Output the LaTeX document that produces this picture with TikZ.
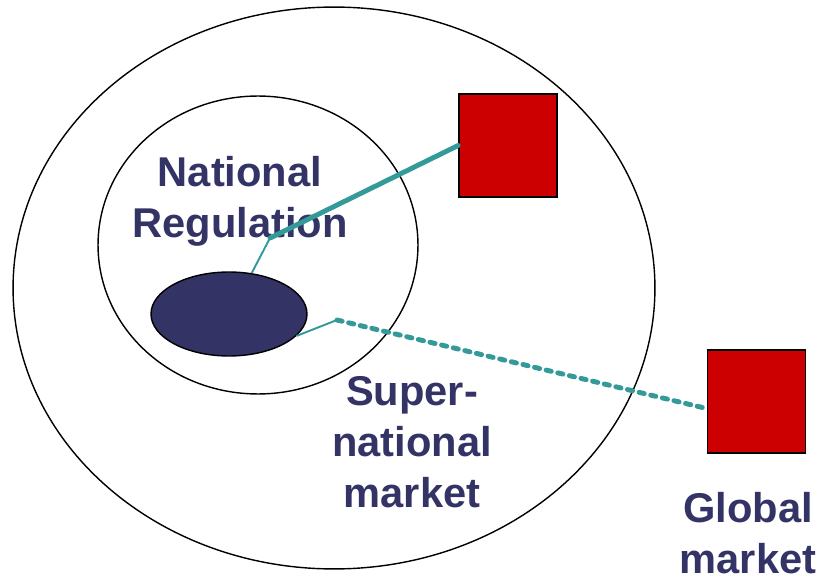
\documentclass[tikz,border=0pt]{standalone}
\usepackage{fontspec}
\setmainfont{Liberation Sans}
\usetikzlibrary{shapes.geometric}
\definecolor{navy}{HTML}{333366}
\definecolor{firmred}{HTML}{CC0000}
\definecolor{linkteal}{HTML}{339999}
\tikzset{
  zone/.style={draw=black, line width=0.8pt},
  firm/.style={draw=black, line width=1pt, fill=firmred, minimum width=1.96cm, minimum height=2.06cm, inner sep=0pt},
  link/.style={draw=linkteal, line width=1.1pt},
  lbl/.style={text=navy, font=\bfseries\fontsize{23.7}{28.9}\selectfont, align=center, anchor=base}
}

\begin{document}
\begin{tikzpicture}[x=0.02cm,y=-0.02cm]
\useasboundingbox (0,0) rectangle (826,581);
\draw[zone] (334,288) ellipse [x radius=6.42cm, y radius=5.62cm];
\draw[zone] (258,245) ellipse [x radius=3.2cm, y radius=2.98cm];
\node[zone, ellipse, fill=navy, minimum width=3.12cm, minimum height=1.68cm, inner sep=0pt] (home) at (229,314) {};

\node[firm] (firmA) at (508,145.5) {};
\node[firm] (firmB) at (756.5,401.5) {};

\node[lbl] (natreg) at (240,237) {National\\Regulation};
\node[lbl] (supmkt) at (412,507) {Super-\\national\\market};
\node[lbl] (glomkt) at (748,573) {Global\\market};

\coordinate (kneeA) at (270,238);
\coordinate (kneeB) at (337,320);
\draw[link, line width=2.8pt, line cap=round] (firmA.west) -- (kneeA);
\draw[link] (kneeA) -- (home.61);
\draw[link, line width=2.8pt, line cap=round, dash pattern=on 3pt off 3.8pt] (kneeB) -- (firmB.188);
\draw[link] (kneeB) -- (home.-18);
\end{tikzpicture}
\end{document}
